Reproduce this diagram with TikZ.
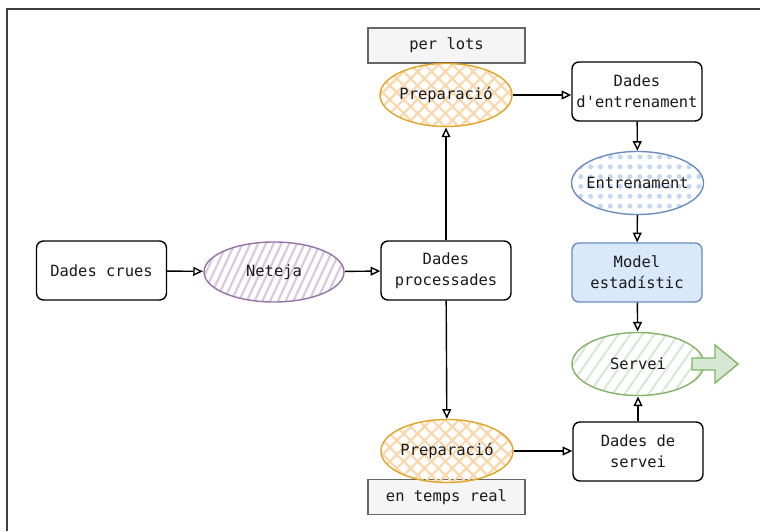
\documentclass[tikz,border=0pt]{standalone}
\usepackage{fontspec}
\newfontfamily\monofont{DejaVu Sans Mono}
\usetikzlibrary{arrows.meta,patterns.meta,shapes.geometric}
\definecolor{txt}{HTML}{1A1A1A}
\definecolor{orangeline}{HTML}{E0A526}
\definecolor{orangefill}{HTML}{FAD7AC}
\definecolor{purpleline}{HTML}{9673A6}
\definecolor{purplefill}{HTML}{D9C8E2}
\definecolor{blueline}{HTML}{6C8EBF}
\definecolor{bluefill}{HTML}{DAE8FC}
\definecolor{bluedots}{HTML}{C3D8F5}
\definecolor{greenline}{HTML}{82B366}
\definecolor{greenfill}{HTML}{D5E8D4}
\definecolor{greyfill}{HTML}{F5F5F5}
\definecolor{greyline}{HTML}{666666}

\begin{document}
\begin{tikzpicture}[x=0.025cm,y=-0.025cm,>={Triangle[open,length=2.4mm,width=2.2mm]},
    font=\monofont\fontsize{11}{15}\selectfont,text=txt]
    \tikzstyle{box}=[rectangle,rounded corners=5pt,draw=black,line width=1pt,fill=white,
        minimum width=3.25cm,minimum height=1.475cm,align=center,inner sep=1pt]
    \tikzstyle{step box}=[ellipse,line width=1pt,minimum width=3.3cm,minimum height=1.575cm,inner sep=0pt]
    \tikzstyle{tag}=[rectangle,draw=greyline,fill=greyfill,line width=0.8pt,
        minimum width=3.925cm,minimum height=0.875cm,inner sep=0pt]
    \tikzstyle{link}=[->,line width=1pt]

    \useasboundingbox (0,0) rectangle (760,531);
    \draw[line width=0.8pt,black!75] (7,531) -- (7,9) -- (760,9);

    % labels for the two branches
    \node[tag] (lots) at (446.5,45.5) {per lots};
    \node[tag] (real) at (446.5,497) {en temps real};

    % data boxes
    \node[box] (crues) at (101.5,270.5) {Dades crues};
    \node[box] (proc) at (446,270.5) {Dades\\processades};
    \node[box] (dentr) at (637,91.5) {Dades\\d'entrenament};
    \node[box] (dserv) at (638,451.5) {Dades de\\servei};
    \node[box,draw=blueline,fill=bluefill] (model) at (637,272.5) {Model\\estadístic};

    % processing steps
    \node[step box,draw=purpleline,minimum width=3.5cm,minimum height=1.5cm,
        pattern={Lines[angle=65,distance=5pt,line width=1.6pt]},pattern color=purplefill] (neteja) at (274,272) {};
    \node at (neteja) {Neteja};
    \node[step box,draw=orangeline,
        pattern={Hatch[angle=45,distance=7pt,line width=1.6pt]},pattern color=orangefill] (prepa) at (446,95) {};
    \node at (prepa) {Preparació};
    \node[step box,draw=orangeline,
        pattern={Hatch[angle=45,distance=7pt,line width=1.6pt]},pattern color=orangefill] (prepb) at (447,451) {};
    \node at (prepb) {Preparació};
    \node[step box,draw=blueline,
        pattern={Dots[distance=7pt,radius=1.8pt]},pattern color=bluedots] (entr) at (637.5,183) {};
    \node at (entr) {Entrenament};
    \node[step box,draw=greenline,
        pattern={Lines[angle=55,distance=7pt,line width=1.4pt]},pattern color=greenfill] (servei) at (638,364) {};
    \node at (servei) {Servei};

    % output arrow
    \draw[draw=greenline,fill=greenfill,line width=1pt]
        (692,358) -- (715,358) -- (715,345) -- (738,364) -- (715,383) -- (715,370) -- (692,370) -- cycle;

    \draw[link] (crues) -- (neteja);
    \draw[link] (neteja) -- (proc);
    \draw[link] (proc) -- (prepa);
    \draw[link] (proc) -- (prepb);
    \draw[link] (prepa.east) -- (prepa.east -| dentr.west);
    \draw[link] (dentr) -- (entr);
    \draw[link] (entr) -- (model);
    \draw[link] (model) -- (servei);
    \draw[link] (prepb.east) -- (prepb.east -| dserv.west);
    \draw[link] (dserv) -- (servei);
\end{tikzpicture}
\end{document}
